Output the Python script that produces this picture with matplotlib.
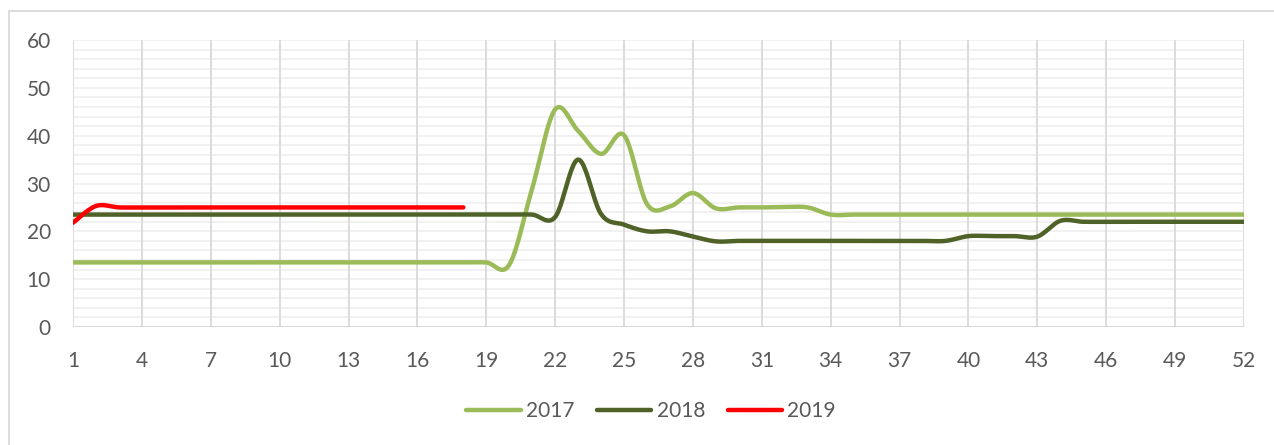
import matplotlib.pyplot as plt
from matplotlib.patches import Rectangle
import numpy as np

plt.rcParams['font.family'] = ['Lato', 'DejaVu Sans']

weeks = list(range(1, 53))

# weekly values
v2017 = [13.5] * 19 + [13.0, 29.0, 45.5, 41.0, 36.2, 40.1, 25.7, 25.2, 28.0,
                       24.8, 25.0, 25.0, 25.1, 25.0] + [23.5] * 19
v2018 = [23.5] * 21 + [23.0, 35.0, 23.6, 21.4, 20.0, 20.0, 18.9, 17.9] + \
        [18.0] * 10 + [19.0, 19.0, 19.0, 18.9, 22.2] + [22.0] * 8
v2019 = [21.8, 25.3] + [25.0] * 16

series = [("2017", v2017, "#9BBB59"),
          ("2018", v2018, "#4F6228"),
          ("2019", v2019, "#FF0000")]


def smooth(x, y, n=24):
    # Catmull-Rom style smoothing, similar to the spreadsheet "smoothed line"
    x = np.asarray(x, float)
    y = np.asarray(y, float)
    xs, ys = [], []
    for i in range(len(x) - 1):
        p0 = np.array([x[max(i - 1, 0)], y[max(i - 1, 0)]])
        p1 = np.array([x[i], y[i]])
        p2 = np.array([x[i + 1], y[i + 1]])
        p3 = np.array([x[min(i + 2, len(x) - 1)], y[min(i + 2, len(x) - 1)]])
        c1 = p1 + (p2 - p0) / 6.0
        c2 = p2 - (p3 - p1) / 6.0
        t = np.linspace(0, 1, n)[:, None]
        pts = ((1 - t) ** 3) * p1 + 3 * ((1 - t) ** 2) * t * c1 + \
            3 * (1 - t) * t ** 2 * c2 + t ** 3 * p2
        xs.append(pts[:, 0])
        ys.append(pts[:, 1])
    return np.concatenate(xs), np.concatenate(ys)


fig = plt.figure(figsize=(12.74, 4.45), dpi=100)
ax = fig.add_axes([73 / 1274, 1 - 327 / 445, (1244 - 73) / 1274, (327 - 40) / 445])

# horizontal minor grid every 2
for yv in np.arange(2, 61, 2):
    ax.axhline(yv, color="#f0f0f0", lw=1.3, zorder=0)
# vertical grid every 3 weeks
for xv in range(1, 53, 3):
    ax.axvline(xv, color="#d9d9d9", lw=1.3, zorder=0)
ax.axhline(0, color="#d9d9d9", lw=1.5, zorder=1)

for name, vals, col in series:
    xs, ys = smooth(weeks[:len(vals)], vals)
    ax.plot(xs, ys, color=col, lw=3.2, solid_capstyle="round", label=name, zorder=3)

ax.set_xlim(1, 52)
ax.set_ylim(0, 60)
ax.set_xticks(range(1, 53, 3))
ax.set_yticks(range(0, 61, 10))
ax.tick_params(length=0, labelsize=15, labelcolor="#595959")
ax.tick_params(axis="x", pad=17)
ax.tick_params(axis="y", pad=16)
for s in ax.spines.values():
    s.set_visible(False)

leg = fig.legend(loc="center", bbox_to_anchor=(651 / 1274, 1 - 411 / 445), ncol=3,
                 frameon=False, fontsize=15, handlelength=2.6, columnspacing=1.1,
                 handletextpad=0.25)
for t in leg.get_texts():
    t.set_color("#595959")

# outer chart frame (only top and left edges fall inside the image)
fig.patches.append(Rectangle((9 / 1274, -20 / 445), 1300 / 1274, 454 / 445,
                             transform=fig.transFigure, fill=False,
                             edgecolor="#d9d9d9", lw=1.3))

fig.savefig("out.png", dpi=100)
